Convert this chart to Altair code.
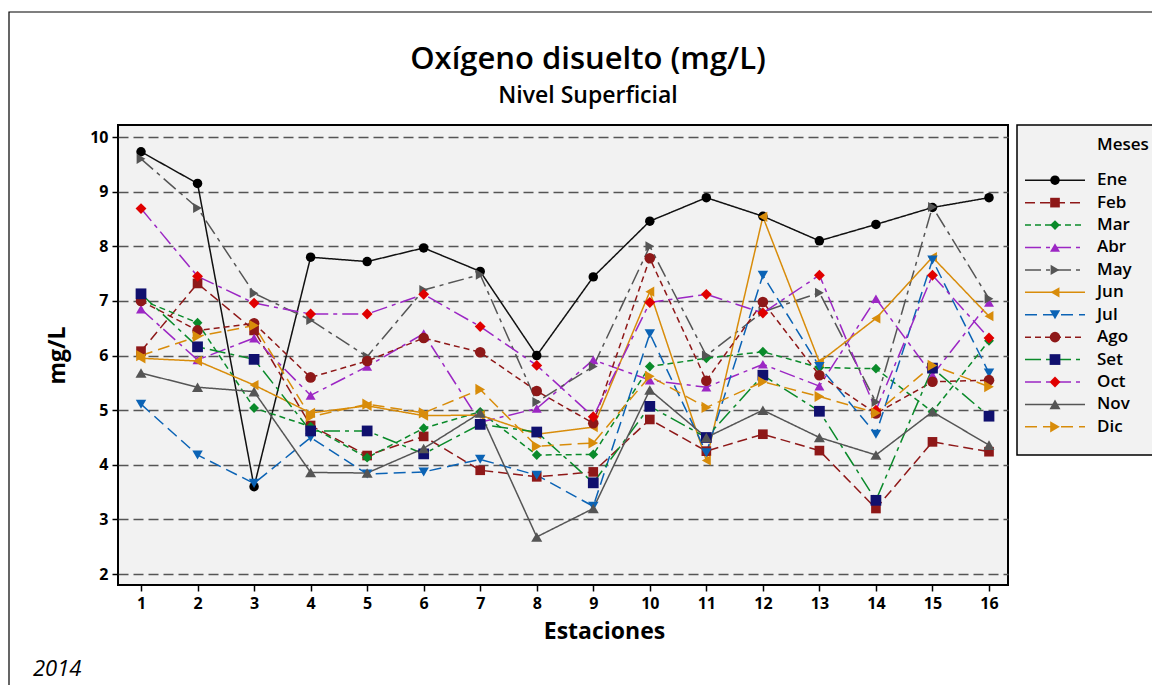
import altair as alt
import pandas as pd

meses = ["Ene", "Feb", "Mar", "Abr", "May", "Jun", "Jul", "Ago", "Set", "Oct", "Nov", "Dic"]
estaciones = list(range(1, 17))

ene = [9.73, 9.15, 3.60, 7.80, 7.72, 7.97, 7.54, 6.00, 7.44, 8.46, 8.89, 8.55, 8.10, 8.40, 8.71, 8.89]
feb = [6.08, 7.32, 6.46, 4.72, 4.17, 4.52, 3.90, 3.78, 3.87, 4.83, 4.25, 4.56, 4.26, 3.20, 4.42, 4.24]
mar = [7.02, 6.60, 5.04, 4.70, 4.13, 4.67, 4.97, 4.18, 4.19, 5.80, 5.95, 6.07, 5.78, 5.76, 4.97, 6.27]
abr = [6.85, 5.92, 6.32, 5.27, 5.80, 6.40, 4.78, 5.03, 5.92, 5.55, 5.42, 5.84, 5.44, 7.04, 5.64, 6.97]
may = [9.60, 8.70, 7.14, 6.65, 5.98, 7.20, 7.48, 5.15, 5.80, 8.00, 6.00, 6.80, 7.15, 5.15, 8.72, 7.04]
jun = [5.95, 5.90, 5.46, 4.95, 5.08, 4.90, 4.91, 4.56, 4.69, 7.17, 4.08, 8.54, 5.88, 6.68, 7.80, 6.72]
jul = [5.11, 4.18, 3.66, 4.50, 3.83, 3.87, 4.10, 3.81, 3.24, 6.40, 4.22, 7.47, 5.80, 4.56, 7.75, 5.68]
ago = [7.00, 6.46, 6.59, 5.60, 5.90, 6.32, 6.06, 5.35, 4.76, 7.78, 5.54, 6.98, 5.64, 4.94, 5.52, 5.55]
set_ = [7.13, 6.16, 5.93, 4.62, 4.62, 4.20, 4.74, 4.60, 3.67, 5.07, 4.50, 5.64, 4.98, 3.35, 5.77, 4.89]
oct_ = [8.69, 7.45, 6.96, 6.76, 6.76, 7.12, 6.53, 5.82, 4.88, 6.97, 7.12, 6.78, 7.47, 5.00, 7.47, 6.32]
nov = [5.68, 5.42, 5.34, 3.86, 3.85, 4.30, 4.95, 2.68, 3.20, 5.37, 4.50, 5.00, 4.50, 4.18, 4.97, 4.36]
dic = [6.00, 6.35, 6.55, 4.88, 5.11, 4.95, 5.38, 4.34, 4.40, 5.62, 5.05, 5.52, 5.25, 4.95, 5.82, 5.43]

series = [ene, feb, mar, abr, may, jun, jul, ago, set_, oct_, nov, dic]

y_ticks = [2, 3, 4, 5, 6, 7, 8, 9, 10]

line_colors = ["#111111", "#8E1818", "#0A8A2A", "#9C27C4", "#555555", "#D88C0A",
               "#0B63B5", "#8E1818", "#0A8A2A", "#9C27C4", "#555555", "#D88C0A"]
marker_colors = ["#000000", "#8E1818", "#0A8A2A", "#9C27C4", "#555555", "#D88C0A",
                 "#0B63B5", "#8E1818", "#10106E", "#E00000", "#555555", "#D88C0A"]
shapes = ["circle", "square", "diamond", "triangle-up", "triangle-right", "triangle-left",
          "triangle-down", "circle", "square", "diamond", "triangle-up", "triangle-right"]
sizes = [90, 125, 170, 210, 210, 210, 210, 90, 125, 170, 210, 210]
dashes = [[1, 0], [10, 5], [6, 4], [16, 5, 4, 5], [16, 5, 4, 5], [1, 0],
          [12, 6], [6, 4], [16, 5, 4, 5], [16, 5, 4, 5], [1, 0], [12, 6]]

rows = []
for m, vals in zip(meses, series):
    for e, v in zip(estaciones, vals):
        rows.append({"mes": m, "estacion": e, "valor": v})
df = pd.DataFrame(rows)

leg = pd.DataFrame({"mes": meses})

FONT = "Open Sans"

stroke_enc = alt.Stroke("mes:N", scale=alt.Scale(domain=meses, range=line_colors), legend=None)
dash_enc = alt.StrokeDash("mes:N", scale=alt.Scale(domain=meses, range=dashes), legend=None)
fill_enc = alt.Fill("mes:N", scale=alt.Scale(domain=meses, range=marker_colors), legend=None)
shape_enc = alt.Shape("mes:N", scale=alt.Scale(domain=meses, range=shapes), legend=None)
size_enc = alt.Size("mes:N", scale=alt.Scale(domain=meses, range=sizes), legend=None)

x_enc = alt.X("estacion:Q", scale=alt.Scale(domain=[0.593, 16.336], nice=False, zero=False),
              axis=alt.Axis(values=estaciones, format="d", title="Estaciones", grid=False, domain=False,
                            tickSize=6, tickColor="black", tickWidth=1.5, labelPadding=4,
                            labelFontSize=16, labelFont=FONT, labelFontWeight="bold", labelColor="black",
                            titleFontSize=23, titleFont=FONT, titleFontWeight="bold", titleColor="black",
                            titlePadding=9, titleX=486, titleAlign="center"))
y_enc = alt.Y("valor:Q", scale=alt.Scale(domain=[1.8, 10.22], nice=False, zero=False),
              axis=alt.Axis(values=y_ticks, format="d", title="mg/L", grid=True, gridDash=[10, 5],
                            gridColor="#555555", gridWidth=1.6, domain=False, tickSize=6, tickColor="black",
                            tickWidth=1.5, labelPadding=4, labelFontSize=16, labelFont=FONT,
                            labelFontWeight="bold", labelColor="black", titleFontSize=23, titleFont=FONT,
                            titleFontWeight="bold", titleColor="black", titlePadding=20))

lines = alt.Chart(df).mark_line(strokeWidth=1.5).encode(
    x=x_enc, y=y_enc, stroke=stroke_enc, strokeDash=dash_enc, detail="mes:N",
    order=alt.Order("estacion:Q"))
points = alt.Chart(df).mark_point(filled=True, opacity=1, strokeWidth=0).encode(
    x="estacion:Q", y="valor:Q", fill=fill_enc, shape=shape_enc, size=size_enc)

# legend
def leg_y():
    return alt.Y("mes:N", sort=meses, scale=alt.Scale(domain=meses, range=[44, 313], padding=0), axis=None)

leg_box = alt.Chart(pd.DataFrame({"k": [0]})).mark_rect(
    fill="#F2F2F2", stroke="black", strokeWidth=1.5).encode(
    x=alt.value(899), x2=alt.value(1040), y=alt.value(0), y2=alt.value(330))
leg_title = alt.Chart(pd.DataFrame({"t": ["Meses"]})).mark_text(
    align="left", baseline="middle", fontSize=17, font=FONT, fontWeight=600, color="black").encode(
    text="t:N", x=alt.value(979), y=alt.value(20))
leg_lines = alt.Chart(leg).mark_rule(strokeWidth=1.5).encode(
    y=leg_y(), x=alt.value(907), x2=alt.value(967), stroke=stroke_enc, strokeDash=dash_enc)
leg_points = alt.Chart(leg).mark_point(filled=True, opacity=1, strokeWidth=0).encode(
    y=leg_y(), x=alt.value(937), fill=fill_enc, shape=shape_enc, size=size_enc)
leg_text = alt.Chart(leg).mark_text(
    align="left", baseline="middle", fontSize=17, font=FONT, fontWeight=600, color="black").encode(
    y=leg_y(), x=alt.value(979), text="mes:N")

title = alt.Chart(pd.DataFrame({"t": ["Oxígeno disuelto (mg/L)"]})).mark_text(
    fontSize=31, font=FONT, fontWeight=600, color="black", baseline="middle").encode(
    text="t:N", x=alt.value(470), y=alt.value(-65))
subtitle = alt.Chart(pd.DataFrame({"t": ["Nivel Superficial"]})).mark_text(
    fontSize=23, font=FONT, fontWeight=600, color="black", baseline="middle").encode(
    text="t:N", x=alt.value(470), y=alt.value(-29))
year = alt.Chart(pd.DataFrame({"t": ["2014"]})).mark_text(
    fontSize=22, font=FONT, fontStyle="italic", color="black", align="left", baseline="middle").encode(
    text="t:N", x=alt.value(-85), y=alt.value(544))
frame = alt.Chart(pd.DataFrame({"k": [0]})).mark_rect(
    fillOpacity=0, stroke="black", strokeWidth=1.2).encode(
    x=alt.value(-109), x2=alt.value(1060), y=alt.value(-113), y2=alt.value(600))

main = alt.layer(lines, points)
legend_layer = alt.layer(leg_box, leg_title, leg_lines, leg_points, leg_text)

chart = alt.layer(
    frame, title, subtitle, year, main, legend_layer
).resolve_scale(y="independent").properties(
    width=890, height=460,
    autosize=alt.AutoSizeParams(type="none"),
    padding={"left": 110, "top": 117, "right": 144, "bottom": 100},
    background="white",
).configure_view(fill="#F2F2F2", stroke="black", strokeWidth=2)

chart.save("out.html", embed_options={"renderer": "svg", "actions": False})
